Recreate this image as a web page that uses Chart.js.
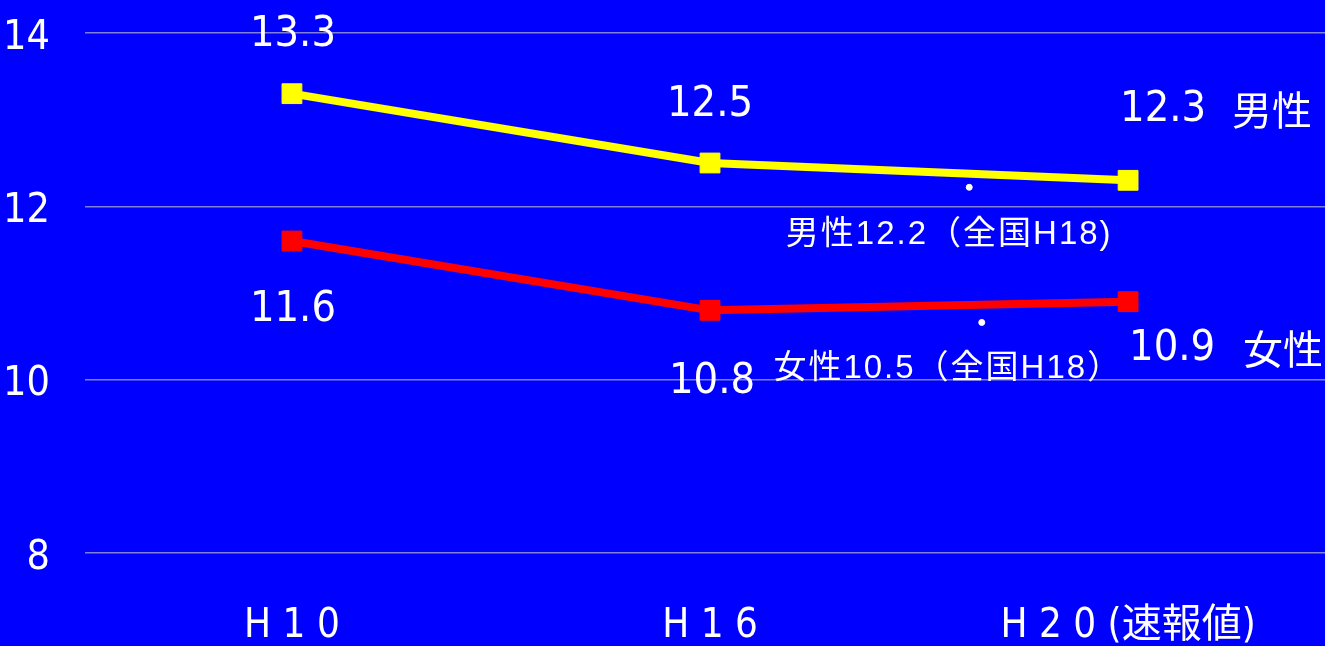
<!DOCTYPE html>
<html>
<head>
<meta charset="utf-8">
<script src="https://cdn.jsdelivr.net/npm/chart.js@4.4.1/dist/chart.umd.min.js"></script>
<style>
  html, body { margin: 0; padding: 0; background: #0000ff; overflow: hidden; }
  #wrap { width: 1325px; height: 646px; }
  canvas { display: block; }
</style>
</head>
<body>
<div id="wrap"><canvas id="myChart"></canvas></div>
<script>
const xLabels = ['H 1 0', 'H 1 6', 'H 2 0 (速報値)'];
const maleValues = [13.3, 12.5, 12.3];
const femaleValues = [11.6, 10.8, 10.9];
const seriesNames = ['男性', '女性'];
const yTicks = [8, 10, 12, 14];

// national reference (H18) dots and notes
const nationalX = [1.62, 1.65];
const nationalY = [12.22, 10.66];
const nationalNotes = ['男性12.2（全国H18)', '女性10.5（全国H18）'];

const NUM_FONT = '"DejaVu Sans Condensed", "Liberation Sans", "Noto Sans CJK JP", sans-serif';
const JP_FONT = '"Liberation Sans", "Noto Sans CJK JP", sans-serif';

// label offsets from each point (px)
const maleOffsets = [[1, -59], [0, -58], [35, -71]];
const femaleOffsets = [[1, 69], [2, 71], [44, 47]];

const labelPlugin = {
  id: 'labels',
  afterDatasetsDraw(chart) {
    const ctx = chart.ctx;
    const xs = chart.scales.x, ys = chart.scales.y;
    ctx.save();
    ctx.fillStyle = '#ffffff';
    ctx.textAlign = 'center';
    ctx.textBaseline = 'middle';

    const drawSeries = (vals, offs, name, nameDx) => {
      vals.forEach((v, i) => {
        const px = xs.getPixelForValue(i) + offs[i][0];
        const py = ys.getPixelForValue(v) + offs[i][1];
        ctx.font = '43px ' + NUM_FONT;
        ctx.fillText(v.toFixed(1), px, py);
        if (i === vals.length - 1) {
          ctx.font = '40px "Noto Sans CJK JP", sans-serif';
          ctx.fillText(name, px + nameDx, py);
        }
      });
    };
    drawSeries(maleValues, maleOffsets, seriesNames[0], 109);
    drawSeries(femaleValues, femaleOffsets, seriesNames[1], 111);

    // national notes
    ctx.font = '33px ' + JP_FONT;
    ctx.letterSpacing = '2px';
    const noteOffs = [[-20, 48], [-34, 46]];
    nationalX.forEach((x, i) => {
      const px = xs.getPixelForValue(x) + noteOffs[i][0];
      const py = ys.getPixelForValue(nationalY[i]) + noteOffs[i][1];
      ctx.fillText(nationalNotes[i], px, py);
    });
    ctx.restore();
  }
};

new Chart(document.getElementById('myChart').getContext('2d'), {
  type: 'line',
  data: {
    datasets: [
      {
        label: seriesNames[0],
        data: maleValues.map((v, i) => ({ x: i, y: v })),
        borderColor: '#ffff00',
        backgroundColor: '#ffff00',
        borderWidth: 8,
        pointStyle: 'rect',
        pointRadius: 14,
        pointBorderWidth: 1,
        pointBorderColor: '#ffff00',
        fill: false
      },
      {
        label: seriesNames[1],
        data: femaleValues.map((v, i) => ({ x: i, y: v })),
        borderColor: '#ff0000',
        backgroundColor: '#ff0000',
        borderWidth: 8,
        pointStyle: 'rect',
        pointRadius: 14,
        pointBorderWidth: 1,
        pointBorderColor: '#ff0000',
        fill: false
      },
      {
        label: '全国H18',
        type: 'scatter',
        data: nationalX.map((x, i) => ({ x: x, y: nationalY[i] })),
        backgroundColor: '#ffffff',
        borderColor: '#ffffff',
        pointRadius: 3,
        showLine: false
      }
    ]
  },
  options: {
    responsive: true,
    maintainAspectRatio: false,
    animation: false,
    layout: { autoPadding: false, padding: { top: 33, right: 0, left: 0, bottom: 0 } },
    scales: {
      x: {
        type: 'linear',
        min: -0.495,
        max: 2.471,
        afterBuildTicks: (scale) => {
          scale.ticks = xLabels.map((l, i) => ({ value: i }));
        },
        afterFit: (scale) => {
          scale.height = 93;
          scale.paddingLeft = 0;
          scale.paddingRight = 0;
        },
        grid: { display: false, drawTicks: false },
        border: { display: false },
        ticks: {
          color: '#ffffff',
          font: { size: 40, family: NUM_FONT },
          padding: 50,
          maxRotation: 0,
          autoSkip: false,
          callback: (value) => xLabels[value]
        }
      },
      y: {
        min: 8,
        max: 14,
        afterBuildTicks: (scale) => {
          scale.ticks = yTicks.map(v => ({ value: v }));
        },
        afterFit: (scale) => {
          scale.width = 85;
          scale.paddingTop = 0;
          scale.paddingBottom = 0;
        },
        grid: { color: '#8080d8', lineWidth: 1.5, drawTicks: false },
        border: { display: false },
        ticks: {
          color: '#ffffff',
          font: { size: 41, family: NUM_FONT },
          padding: 35,
          labelOffset: 5
        }
      }
    },
    plugins: {
      legend: { display: false },
      tooltip: { enabled: false }
    }
  },
  plugins: [labelPlugin]
});
</script>
</body>
</html>
